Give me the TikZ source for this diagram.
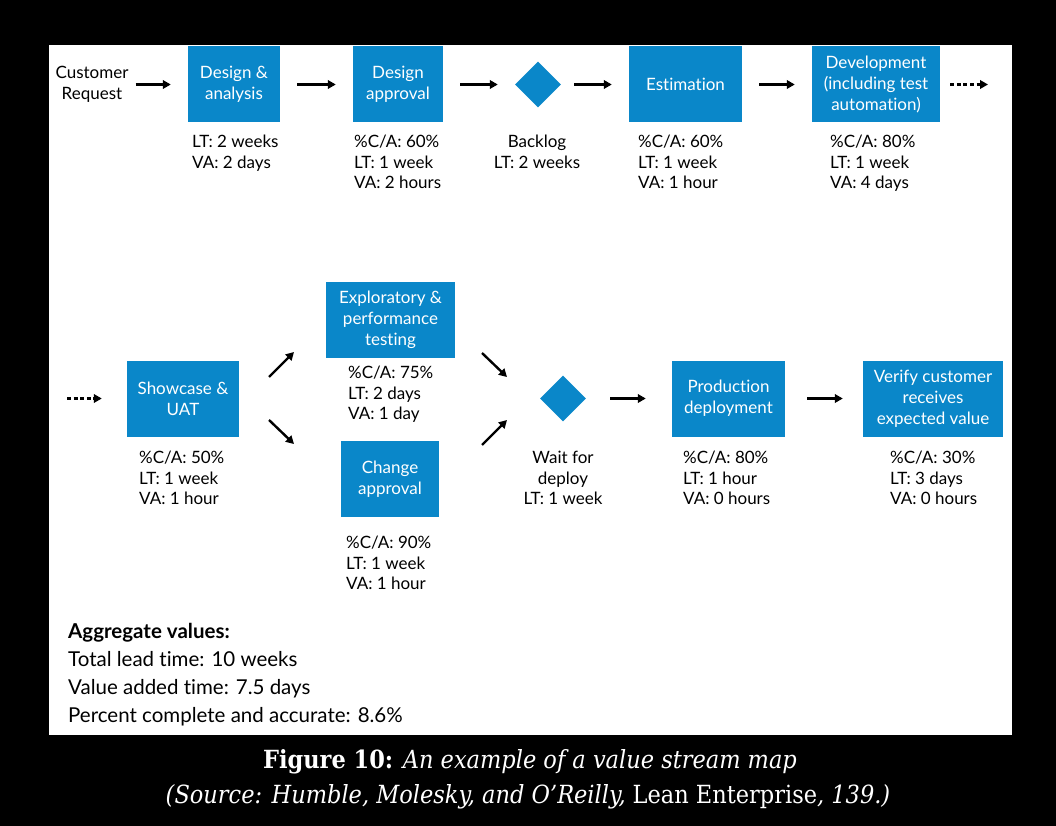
\documentclass[tikz,border=0pt]{standalone}
\usepackage{fontspec}
\setmainfont{Lato}[Ligatures=NoCommon]
\newfontfamily\capfont{DejaVu Serif Condensed}
\usepackage{tikz}
\usetikzlibrary{arrows.meta,positioning,calc,shapes.geometric}
\definecolor{vsblue}{HTML}{0A87C9}
\tikzset{
  proc/.style  ={rectangle,fill=vsblue,text=white,minimum height=76pt,inner sep=0pt,align=center,font=\fontsize{17}{21}\selectfont},
  wait/.style  ={diamond,fill=vsblue,minimum size=46pt,inner sep=0pt},
  stats/.style ={anchor=north west,inner sep=0pt,align=left,font=\fontsize{17}{20.6}\selectfont},
  cstats/.style={stats,anchor=north,align=center},
  flow/.style  ={line width=2.4pt,-{Triangle[length=8pt,width=8.5pt]},shorten <=17pt,shorten >=17pt},
  dflow/.style ={flow,dash pattern=on 4pt off 2.6pt},
  agg/.style   ={anchor=north west,inner sep=0pt,align=left,font=\fontsize{20.5}{28}\selectfont},
  capt/.style  ={text=white,inner sep=0pt,font=\capfont\fontsize{25}{30}\selectfont},
}
\begin{document}
\begin{tikzpicture}[x=1pt,y=-1pt]
  \useasboundingbox (0,0) rectangle (1056,826);
  \fill[black] (0,0) rectangle (1056,826);
  \fill[white] (49,45) rectangle (1012,735);
  % first row
  \node[inner sep=0pt,align=center,font=\fontsize{17}{21}\selectfont] (cust) at (92,84) {Customer\\Request};
  \node[proc,minimum width=92pt]  (da)   at (234,84.5)  {Design \&\\analysis};
  \node[proc,minimum width=90pt]  (dap)  at (398,84.5)  {Design\\approval};
  \node[wait]                     (blog) at (538,84.5)  {};
  \node[proc,minimum width=113pt] (est)  at (685.5,84.5){Estimation};
  \node[proc,minimum width=128pt] (dev)  at (876,84.5)  {Development\\(including test\\automation)};
  \coordinate (cont1) at (988,84.5);
  \draw[flow,shorten <=7pt] (cust.east |- da) -- (da);
  \draw[flow] (da) -- (dap);
  \draw[flow] (dap) -- (blog);
  \draw[flow,shorten <=13pt] (blog) -- (est);
  \draw[flow] (est) -- (dev);
  \draw[dflow,shorten <=10pt,shorten >=0pt] (dev.east |- cont1) -- (cont1);
  \node[stats]  (da-s)   at (192,135) {LT: 2 weeks\\VA: 2 days};
  \node[stats]  (dap-s)  at (354,135) {\%C/A: 60\%\\LT: 1 week\\VA: 2 hours};
  \node[cstats] (blog-s) at (537,135) {Backlog\\LT: 2 weeks};
  \node[stats]  (est-s)  at (638,135) {\%C/A: 60\%\\LT: 1 week\\VA: 1 hour};
  \node[stats]  (dev-s)  at (830,135) {\%C/A: 80\%\\LT: 1 week\\VA: 4 days};
  % second row
  \coordinate (cont2) at (67,398.5);
  \node[proc,minimum width=112pt] (sua) at (183,398.5) {Showcase \&\\UAT};
  \node[proc,minimum width=129pt] (exp) at (390.5,320) {Exploratory \&\\performance\\testing};
  \node[proc,minimum width=98pt]  (chg) at (390,479)   {Change\\approval};
  \node[wait]                     (wfd) at (563,398.5) {};
  \node[proc,minimum width=113pt] (prd) at (728.5,398.5) {Production\\deployment};
  \node[proc,minimum width=140pt] (ver) at (933,398.5) {Verify customer\\receives\\expected value};
  \draw[dflow,shorten <=0pt,shorten >=25pt] (cont2) -- (sua.west |- cont2);
  \coordinate (su1) at (269,377); \coordinate (su2) at (294,352);
  \coordinate (sd1) at (269,420); \coordinate (sd2) at (294,444);
  \coordinate (wd1) at (482,353); \coordinate (wd2) at (507,377);
  \coordinate (wu1) at (482,445); \coordinate (wu2) at (507,420);
  \foreach \a/\b in {su1/su2,sd1/sd2,wd1/wd2,wu1/wu2}
    \draw[flow,shorten <=0pt,shorten >=0pt] (\a) -- (\b);
  \draw[flow,shorten <=24pt,shorten >=26pt] (wfd) -- (prd);
  \draw[flow,shorten <=22pt,shorten >=20pt] (prd) -- (ver);
  \node[stats]  (sua-s) at (139,451) {\%C/A: 50\%\\LT: 1 week\\VA: 1 hour};
  \node[stats]  (exp-s) at (348,366) {\%C/A: 75\%\\LT: 2 days\\VA: 1 day};
  \node[stats]  (chg-s) at (346,536) {\%C/A: 90\%\\LT: 1 week\\VA: 1 hour};
  \node[cstats] (wfd-s) at (563,451) {Wait for\\deploy\\LT: 1 week};
  \node[stats]  (prd-s) at (683,451) {\%C/A: 80\%\\LT: 1 hour\\VA: 0 hours};
  \node[stats]  (ver-s) at (890,451) {\%C/A: 30\%\\LT: 3 days\\VA: 0 hours};
  % aggregate
  \node[agg] (aggr) at (68,623) {\textbf{Aggregate values:}\\Total lead time: 10 weeks\\Value added time: 7.5 days\\Percent complete and accurate: 8.6\%};
  % caption
  \node[capt] (cap1) at (530,762) {\textbf{Figure 10:} \textit{An example of a value stream map}};
  \node[capt] (cap2) at (528,797) {\textit{(Source: Humble, Molesky, and O’Reilly,} Lean Enterprise\textit{, 139.)}};
\end{tikzpicture}
\end{document}
